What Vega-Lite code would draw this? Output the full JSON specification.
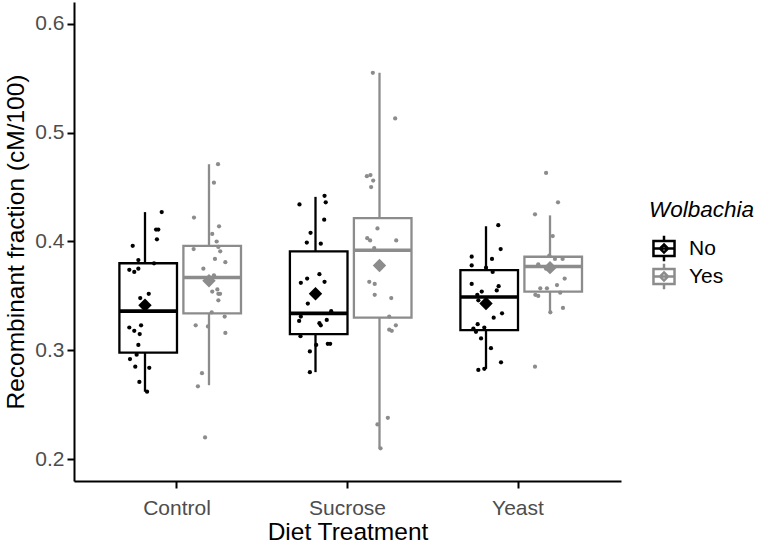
{
  "$schema": "https://vega.github.io/schema/vega-lite/v6.json",
  "padding": {"left": 3, "top": 2, "right": 0, "bottom": 0},
  "width": 547,
  "height": 479,
  "config": {
    "font": "Liberation Sans",
    "view": {"stroke": null},
    "axis": {"grid": false, "domainColor": "black", "domainWidth": 2, "tickColor": "black", "tickWidth": 2, "tickSize": 7, "labelColor": "#4d4d4d", "labelFontSize": 21, "labelPadding": 3, "titleFontSize": 24.5, "titleFontWeight": "normal", "titleColor": "black", "titlePadding": 6},
    "legend": {"padding": 0}
  },
  "data": {"values": [
    {"kind": "box", "diet": "Control", "wol": "No", "lower": 0.262, "q1": 0.298, "median": 0.336, "q3": 0.380, "upper": 0.427, "mean": 0.3415},
    {"kind": "box", "diet": "Control", "wol": "Yes", "lower": 0.268, "q1": 0.334, "median": 0.367, "q3": 0.396, "upper": 0.471, "mean": 0.364},
    {"kind": "box", "diet": "Sucrose", "wol": "No", "lower": 0.280, "q1": 0.315, "median": 0.334, "q3": 0.391, "upper": 0.441, "mean": 0.352},
    {"kind": "box", "diet": "Sucrose", "wol": "Yes", "lower": 0.210, "q1": 0.330, "median": 0.392, "q3": 0.4215, "upper": 0.555, "mean": 0.378},
    {"kind": "box", "diet": "Yeast", "wol": "No", "lower": 0.283, "q1": 0.3186, "median": 0.349, "q3": 0.3737, "upper": 0.414, "mean": 0.343},
    {"kind": "box", "diet": "Yeast", "wol": "Yes", "lower": 0.3345, "q1": 0.354, "median": 0.377, "q3": 0.386, "upper": 0.424, "mean": 0.376},

    {"kind": "pt", "diet": "Control", "wol": "No", "y": 0.427, "jitter": 0.098},
    {"kind": "pt", "diet": "Control", "wol": "No", "y": 0.411, "jitter": 0.065},
    {"kind": "pt", "diet": "Control", "wol": "No", "y": 0.411, "jitter": 0.078},
    {"kind": "pt", "diet": "Control", "wol": "No", "y": 0.402, "jitter": 0.070},
    {"kind": "pt", "diet": "Control", "wol": "No", "y": 0.396, "jitter": -0.072},
    {"kind": "pt", "diet": "Control", "wol": "No", "y": 0.383, "jitter": -0.039},
    {"kind": "pt", "diet": "Control", "wol": "No", "y": 0.380, "jitter": 0.053},
    {"kind": "pt", "diet": "Control", "wol": "No", "y": 0.374, "jitter": -0.092},
    {"kind": "pt", "diet": "Control", "wol": "No", "y": 0.372, "jitter": -0.063},
    {"kind": "pt", "diet": "Control", "wol": "No", "y": 0.375, "jitter": -0.039},
    {"kind": "pt", "diet": "Control", "wol": "No", "y": 0.352, "jitter": 0.022},
    {"kind": "pt", "diet": "Control", "wol": "No", "y": 0.348, "jitter": -0.028},
    {"kind": "pt", "diet": "Control", "wol": "No", "y": 0.321, "jitter": -0.092},
    {"kind": "pt", "diet": "Control", "wol": "No", "y": 0.323, "jitter": -0.023},
    {"kind": "pt", "diet": "Control", "wol": "No", "y": 0.318, "jitter": -0.063},
    {"kind": "pt", "diet": "Control", "wol": "No", "y": 0.315, "jitter": -0.031},
    {"kind": "pt", "diet": "Control", "wol": "No", "y": 0.305, "jitter": -0.039},
    {"kind": "pt", "diet": "Control", "wol": "No", "y": 0.296, "jitter": -0.049},
    {"kind": "pt", "diet": "Control", "wol": "No", "y": 0.292, "jitter": -0.088},
    {"kind": "pt", "diet": "Control", "wol": "No", "y": 0.285, "jitter": -0.057},
    {"kind": "pt", "diet": "Control", "wol": "No", "y": 0.284, "jitter": 0.025},
    {"kind": "pt", "diet": "Control", "wol": "No", "y": 0.271, "jitter": -0.033},
    {"kind": "pt", "diet": "Control", "wol": "No", "y": 0.262, "jitter": 0.012},

    {"kind": "pt", "diet": "Control", "wol": "Yes", "y": 0.471, "jitter": 0.053},
    {"kind": "pt", "diet": "Control", "wol": "Yes", "y": 0.454, "jitter": 0.029},
    {"kind": "pt", "diet": "Control", "wol": "Yes", "y": 0.422, "jitter": -0.088},
    {"kind": "pt", "diet": "Control", "wol": "Yes", "y": 0.414, "jitter": 0.059},
    {"kind": "pt", "diet": "Control", "wol": "Yes", "y": 0.407, "jitter": 0.019},
    {"kind": "pt", "diet": "Control", "wol": "Yes", "y": 0.400, "jitter": 0.045},
    {"kind": "pt", "diet": "Control", "wol": "Yes", "y": 0.395, "jitter": 0.055},
    {"kind": "pt", "diet": "Control", "wol": "Yes", "y": 0.393, "jitter": -0.090},
    {"kind": "pt", "diet": "Control", "wol": "Yes", "y": 0.391, "jitter": 0.066},
    {"kind": "pt", "diet": "Control", "wol": "Yes", "y": 0.384, "jitter": 0.035},
    {"kind": "pt", "diet": "Control", "wol": "Yes", "y": 0.381, "jitter": 0.096},
    {"kind": "pt", "diet": "Control", "wol": "Yes", "y": 0.375, "jitter": -0.033},
    {"kind": "pt", "diet": "Control", "wol": "Yes", "y": 0.369, "jitter": 0.029},
    {"kind": "pt", "diet": "Control", "wol": "Yes", "y": 0.356, "jitter": 0.049},
    {"kind": "pt", "diet": "Control", "wol": "Yes", "y": 0.354, "jitter": 0.019},
    {"kind": "pt", "diet": "Control", "wol": "Yes", "y": 0.352, "jitter": 0.055},
    {"kind": "pt", "diet": "Control", "wol": "Yes", "y": 0.352, "jitter": 0.065},
    {"kind": "pt", "diet": "Control", "wol": "Yes", "y": 0.346, "jitter": 0.055},
    {"kind": "pt", "diet": "Control", "wol": "Yes", "y": 0.335, "jitter": 0.016},
    {"kind": "pt", "diet": "Control", "wol": "Yes", "y": 0.331, "jitter": 0.092},
    {"kind": "pt", "diet": "Control", "wol": "Yes", "y": 0.323, "jitter": -0.078},
    {"kind": "pt", "diet": "Control", "wol": "Yes", "y": 0.322, "jitter": -0.006},
    {"kind": "pt", "diet": "Control", "wol": "Yes", "y": 0.316, "jitter": 0.096},
    {"kind": "pt", "diet": "Control", "wol": "Yes", "y": 0.279, "jitter": -0.041},
    {"kind": "pt", "diet": "Control", "wol": "Yes", "y": 0.267, "jitter": -0.065},
    {"kind": "pt", "diet": "Control", "wol": "Yes", "y": 0.220, "jitter": -0.023},

    {"kind": "pt", "diet": "Sucrose", "wol": "No", "y": 0.442, "jitter": 0.053},
    {"kind": "pt", "diet": "Sucrose", "wol": "No", "y": 0.434, "jitter": -0.094},
    {"kind": "pt", "diet": "Sucrose", "wol": "No", "y": 0.436, "jitter": 0.060},
    {"kind": "pt", "diet": "Sucrose", "wol": "No", "y": 0.420, "jitter": 0.051},
    {"kind": "pt", "diet": "Sucrose", "wol": "No", "y": 0.408, "jitter": -0.029},
    {"kind": "pt", "diet": "Sucrose", "wol": "No", "y": 0.399, "jitter": -0.051},
    {"kind": "pt", "diet": "Sucrose", "wol": "No", "y": 0.398, "jitter": 0.031},
    {"kind": "pt", "diet": "Sucrose", "wol": "No", "y": 0.370, "jitter": 0.023},
    {"kind": "pt", "diet": "Sucrose", "wol": "No", "y": 0.366, "jitter": -0.049},
    {"kind": "pt", "diet": "Sucrose", "wol": "No", "y": 0.362, "jitter": -0.086},
    {"kind": "pt", "diet": "Sucrose", "wol": "No", "y": 0.363, "jitter": 0.053},
    {"kind": "pt", "diet": "Sucrose", "wol": "No", "y": 0.343, "jitter": -0.045},
    {"kind": "pt", "diet": "Sucrose", "wol": "No", "y": 0.336, "jitter": 0.092},
    {"kind": "pt", "diet": "Sucrose", "wol": "No", "y": 0.331, "jitter": -0.086},
    {"kind": "pt", "diet": "Sucrose", "wol": "No", "y": 0.327, "jitter": -0.096},
    {"kind": "pt", "diet": "Sucrose", "wol": "No", "y": 0.328, "jitter": 0.066},
    {"kind": "pt", "diet": "Sucrose", "wol": "No", "y": 0.325, "jitter": 0.023},
    {"kind": "pt", "diet": "Sucrose", "wol": "No", "y": 0.323, "jitter": 0.031},
    {"kind": "pt", "diet": "Sucrose", "wol": "No", "y": 0.313, "jitter": -0.088},
    {"kind": "pt", "diet": "Sucrose", "wol": "No", "y": 0.305, "jitter": 0.004},
    {"kind": "pt", "diet": "Sucrose", "wol": "No", "y": 0.306, "jitter": 0.072},
    {"kind": "pt", "diet": "Sucrose", "wol": "No", "y": 0.306, "jitter": 0.086},
    {"kind": "pt", "diet": "Sucrose", "wol": "No", "y": 0.299, "jitter": -0.033},
    {"kind": "pt", "diet": "Sucrose", "wol": "No", "y": 0.280, "jitter": -0.033},

    {"kind": "pt", "diet": "Sucrose", "wol": "Yes", "y": 0.555, "jitter": -0.039},
    {"kind": "pt", "diet": "Sucrose", "wol": "Yes", "y": 0.513, "jitter": 0.092},
    {"kind": "pt", "diet": "Sucrose", "wol": "Yes", "y": 0.460, "jitter": -0.074},
    {"kind": "pt", "diet": "Sucrose", "wol": "Yes", "y": 0.461, "jitter": -0.053},
    {"kind": "pt", "diet": "Sucrose", "wol": "Yes", "y": 0.456, "jitter": -0.037},
    {"kind": "pt", "diet": "Sucrose", "wol": "Yes", "y": 0.450, "jitter": -0.049},
    {"kind": "pt", "diet": "Sucrose", "wol": "Yes", "y": 0.412, "jitter": -0.012},
    {"kind": "pt", "diet": "Sucrose", "wol": "Yes", "y": 0.403, "jitter": -0.072},
    {"kind": "pt", "diet": "Sucrose", "wol": "Yes", "y": 0.401, "jitter": -0.055},
    {"kind": "pt", "diet": "Sucrose", "wol": "Yes", "y": 0.401, "jitter": 0.098},
    {"kind": "pt", "diet": "Sucrose", "wol": "Yes", "y": 0.394, "jitter": -0.031},
    {"kind": "pt", "diet": "Sucrose", "wol": "Yes", "y": 0.363, "jitter": -0.060},
    {"kind": "pt", "diet": "Sucrose", "wol": "Yes", "y": 0.361, "jitter": -0.028},
    {"kind": "pt", "diet": "Sucrose", "wol": "Yes", "y": 0.351, "jitter": -0.028},
    {"kind": "pt", "diet": "Sucrose", "wol": "Yes", "y": 0.348, "jitter": 0.069},
    {"kind": "pt", "diet": "Sucrose", "wol": "Yes", "y": 0.331, "jitter": 0.057},
    {"kind": "pt", "diet": "Sucrose", "wol": "Yes", "y": 0.319, "jitter": 0.057},
    {"kind": "pt", "diet": "Sucrose", "wol": "Yes", "y": 0.318, "jitter": 0.072},
    {"kind": "pt", "diet": "Sucrose", "wol": "Yes", "y": 0.323, "jitter": 0.096},
    {"kind": "pt", "diet": "Sucrose", "wol": "Yes", "y": 0.238, "jitter": 0.049},
    {"kind": "pt", "diet": "Sucrose", "wol": "Yes", "y": 0.232, "jitter": -0.012},
    {"kind": "pt", "diet": "Sucrose", "wol": "Yes", "y": 0.210, "jitter": 0.006},

    {"kind": "pt", "diet": "Yeast", "wol": "No", "y": 0.415, "jitter": 0.072},
    {"kind": "pt", "diet": "Yeast", "wol": "No", "y": 0.393, "jitter": 0.086},
    {"kind": "pt", "diet": "Yeast", "wol": "No", "y": 0.386, "jitter": -0.084},
    {"kind": "pt", "diet": "Yeast", "wol": "No", "y": 0.384, "jitter": 0.035},
    {"kind": "pt", "diet": "Yeast", "wol": "No", "y": 0.378, "jitter": -0.084},
    {"kind": "pt", "diet": "Yeast", "wol": "No", "y": 0.372, "jitter": 0.039},
    {"kind": "pt", "diet": "Yeast", "wol": "No", "y": 0.376, "jitter": 0.0},
    {"kind": "pt", "diet": "Yeast", "wol": "No", "y": 0.361, "jitter": -0.084},
    {"kind": "pt", "diet": "Yeast", "wol": "No", "y": 0.359, "jitter": 0.074},
    {"kind": "pt", "diet": "Yeast", "wol": "No", "y": 0.354, "jitter": -0.025},
    {"kind": "pt", "diet": "Yeast", "wol": "No", "y": 0.355, "jitter": 0.063},
    {"kind": "pt", "diet": "Yeast", "wol": "No", "y": 0.351, "jitter": -0.051},
    {"kind": "pt", "diet": "Yeast", "wol": "No", "y": 0.346, "jitter": -0.045},
    {"kind": "pt", "diet": "Yeast", "wol": "No", "y": 0.334, "jitter": 0.094},
    {"kind": "pt", "diet": "Yeast", "wol": "No", "y": 0.330, "jitter": 0.045},
    {"kind": "pt", "diet": "Yeast", "wol": "No", "y": 0.324, "jitter": -0.049},
    {"kind": "pt", "diet": "Yeast", "wol": "No", "y": 0.321, "jitter": -0.010},
    {"kind": "pt", "diet": "Yeast", "wol": "No", "y": 0.320, "jitter": -0.074},
    {"kind": "pt", "diet": "Yeast", "wol": "No", "y": 0.317, "jitter": -0.059},
    {"kind": "pt", "diet": "Yeast", "wol": "No", "y": 0.311, "jitter": -0.029},
    {"kind": "pt", "diet": "Yeast", "wol": "No", "y": 0.302, "jitter": 0.029},
    {"kind": "pt", "diet": "Yeast", "wol": "No", "y": 0.289, "jitter": 0.088},
    {"kind": "pt", "diet": "Yeast", "wol": "No", "y": 0.282, "jitter": -0.045},
    {"kind": "pt", "diet": "Yeast", "wol": "No", "y": 0.283, "jitter": -0.010},

    {"kind": "pt", "diet": "Yeast", "wol": "Yes", "y": 0.463, "jitter": -0.023},
    {"kind": "pt", "diet": "Yeast", "wol": "Yes", "y": 0.436, "jitter": 0.047},
    {"kind": "pt", "diet": "Yeast", "wol": "Yes", "y": 0.425, "jitter": -0.088},
    {"kind": "pt", "diet": "Yeast", "wol": "Yes", "y": 0.405, "jitter": 0.016},
    {"kind": "pt", "diet": "Yeast", "wol": "Yes", "y": 0.387, "jitter": -0.004},
    {"kind": "pt", "diet": "Yeast", "wol": "Yes", "y": 0.384, "jitter": 0.029},
    {"kind": "pt", "diet": "Yeast", "wol": "Yes", "y": 0.384, "jitter": 0.074},
    {"kind": "pt", "diet": "Yeast", "wol": "Yes", "y": 0.379, "jitter": -0.069},
    {"kind": "pt", "diet": "Yeast", "wol": "Yes", "y": 0.375, "jitter": -0.023},
    {"kind": "pt", "diet": "Yeast", "wol": "Yes", "y": 0.376, "jitter": -0.013},
    {"kind": "pt", "diet": "Yeast", "wol": "Yes", "y": 0.366, "jitter": 0.086},
    {"kind": "pt", "diet": "Yeast", "wol": "Yes", "y": 0.360, "jitter": 0.041},
    {"kind": "pt", "diet": "Yeast", "wol": "Yes", "y": 0.357, "jitter": -0.057},
    {"kind": "pt", "diet": "Yeast", "wol": "Yes", "y": 0.357, "jitter": -0.018},
    {"kind": "pt", "diet": "Yeast", "wol": "Yes", "y": 0.351, "jitter": -0.086},
    {"kind": "pt", "diet": "Yeast", "wol": "Yes", "y": 0.350, "jitter": -0.069},
    {"kind": "pt", "diet": "Yeast", "wol": "Yes", "y": 0.353, "jitter": 0.060},
    {"kind": "pt", "diet": "Yeast", "wol": "Yes", "y": 0.339, "jitter": 0.076},
    {"kind": "pt", "diet": "Yeast", "wol": "Yes", "y": 0.335, "jitter": 0.002},
    {"kind": "pt", "diet": "Yeast", "wol": "Yes", "y": 0.285, "jitter": -0.088}
  ]},
  "encoding": {
    "x": {"field": "diet", "type": "nominal", "sort": ["Control", "Sucrose", "Yeast"],
      "scale": {"paddingInner": 0.2493, "paddingOuter": 0.2287},
      "axis": {"title": "Diet Treatment", "labelAngle": 0, "labelPadding": 9, "titlePadding": 2}},
    "y": {"type": "quantitative", "scale": {"domain": [0.18, 0.62], "nice": false, "zero": false},
      "axis": {"title": "Recombinant fraction (cM/100)", "values": [0.2, 0.3, 0.4, 0.5, 0.6], "format": ".1f"}}
  },
  "resolve": {"scale": {"xOffset": "independent"}},
  "layer": [
    {
      "transform": [{"filter": "datum.kind === 'box'"}],
      "mark": {"type": "rule", "strokeWidth": 2.3},
      "encoding": {
        "xOffset": {"field": "wol", "type": "nominal", "scale": {"type": "band", "domain": ["No", "Yes"], "paddingInner": 0, "paddingOuter": 0}},
        "y": {"field": "lower", "type": "quantitative"},
        "y2": {"field": "upper"},
        "stroke": {"field": "wol", "type": "nominal", "scale": {"domain": ["No", "Yes"], "range": ["#000000", "#8c8c8c"]},
          "legend": {"title": "Wolbachia", "titleFontStyle": "italic", "titleFontSize": 22.5, "titleFontWeight": "normal", "titleColor": "black", "titlePadding": 13, "labelFontSize": 21, "labelColor": "black", "labelOffset": 10, "rowPadding": 0, "clipHeight": 28,
            "symbolType": "M-0.78,-0.55H0.78V0.55H-0.78Z M0,-0.95V-0.55 M0,0.55V0.95 M-0.78,0H0.78 M0,-0.3L0.3,0L0,0.3L-0.3,0Z",
            "symbolSize": 729, "symbolStrokeWidth": 2.5, "symbolFillColor": "transparent", "orient": "none", "legendX": 575, "legendY": 197}}
      }
    },
    {
      "transform": [{"filter": "datum.kind === 'box'"}],
      "mark": {"type": "bar", "fill": "white", "strokeWidth": 2.3, "width": {"band": 0.9}},
      "encoding": {
        "xOffset": {"field": "wol", "type": "nominal", "scale": {"type": "band", "domain": ["No", "Yes"], "paddingInner": 0, "paddingOuter": 0}},
        "y": {"field": "q1", "type": "quantitative"},
        "y2": {"field": "q3"},
        "stroke": {"field": "wol", "type": "nominal"}
      }
    },
    {
      "transform": [{"filter": "datum.kind === 'box'"}],
      "mark": {"type": "bar", "fill": "white", "strokeWidth": 3.6, "width": {"band": 0.9}},
      "encoding": {
        "xOffset": {"field": "wol", "type": "nominal", "scale": {"type": "band", "domain": ["No", "Yes"], "paddingInner": 0, "paddingOuter": 0}},
        "y": {"field": "median", "type": "quantitative"},
        "y2": {"field": "median"},
        "stroke": {"field": "wol", "type": "nominal"}
      }
    },
    {
      "transform": [{"filter": "datum.kind === 'pt' && datum.wol === 'No'"}],
      "mark": {"type": "point", "filled": true, "size": 18, "opacity": 1, "strokeWidth": 0, "fill": "#000000"},
      "encoding": {
        "y": {"field": "y", "type": "quantitative"},
        "xOffset": {"field": "jitter", "type": "quantitative", "scale": {"domain": [-0.1877, 0.563]}}
      }
    },
    {
      "transform": [{"filter": "datum.kind === 'pt' && datum.wol === 'Yes'"}],
      "mark": {"type": "point", "filled": true, "size": 18, "opacity": 1, "strokeWidth": 0, "fill": "#8c8c8c"},
      "encoding": {
        "y": {"field": "y", "type": "quantitative"},
        "xOffset": {"field": "jitter", "type": "quantitative", "scale": {"domain": [-0.563, 0.1877]}}
      }
    },
    {
      "transform": [{"filter": "datum.kind === 'box' && datum.wol === 'No'"}],
      "mark": {"type": "point", "shape": "diamond", "filled": true, "size": 180, "opacity": 1, "strokeWidth": 0, "fill": "#000000"},
      "encoding": {
        "xOffset": {"field": "wol", "type": "nominal", "scale": {"type": "band", "domain": ["No", "Yes"], "paddingInner": 0, "paddingOuter": 0}},
        "y": {"field": "mean", "type": "quantitative"}
      }
    },
    {
      "transform": [{"filter": "datum.kind === 'box' && datum.wol === 'Yes'"}],
      "mark": {"type": "point", "shape": "diamond", "filled": true, "size": 180, "opacity": 1, "strokeWidth": 0, "fill": "#8c8c8c"},
      "encoding": {
        "xOffset": {"field": "wol", "type": "nominal", "scale": {"type": "band", "domain": ["No", "Yes"], "paddingInner": 0, "paddingOuter": 0}},
        "y": {"field": "mean", "type": "quantitative"}
      }
    }
  ]
}
